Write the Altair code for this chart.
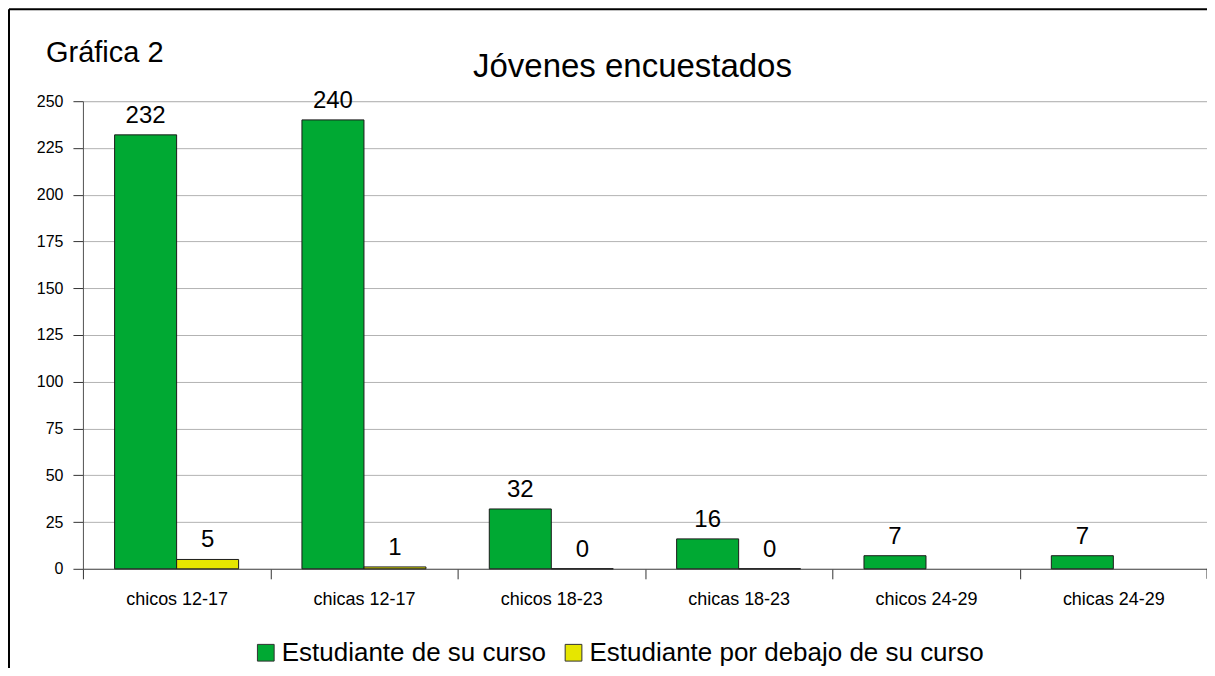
import altair as alt
import pandas as pd

categorias = ["chicos 12-17", "chicas 12-17", "chicos 18-23", "chicas 18-23", "chicos 24-29", "chicas 24-29"]
series = ["Estudiante de su curso", "Estudiante por debajo de su curso"]
en_curso = [232, 240, 32, 16, 7, 7]
por_debajo = [5, 1, 0, 0, None, None]
colores = ["#00a933", "#e6e600"]
y_ticks = [0, 25, 50, 75, 100, 125, 150, 175, 200, 225, 250]

rows = []
for c, a, b in zip(categorias, en_curso, por_debajo):
    rows.append({"cat": c, "serie": series[0], "valor": a})
    if b is not None:
        rows.append({"cat": c, "serie": series[1], "valor": b})
df = pd.DataFrame(rows)

W, H = 1125, 468
FONT = "Liberation Sans"
step = W / len(categorias)
PI = 0.338
half_gap = PI * step / 2

x_enc = alt.X("cat:N", sort=categorias, title=None,
              scale=alt.Scale(paddingInner=PI, paddingOuter=PI / 2),
              axis=alt.Axis(bandPosition=0, tickOffset=-half_gap, labelOffset=half_gap,
                            labelAngle=0, tickSize=10, labelPadding=12, labelFontSize=18,
                            labelFont=FONT, labelColor="#000", domainColor="#555",
                            tickColor="#333", grid=False))
xo_enc = alt.XOffset("serie:N", sort=series)
y_enc = alt.Y("valor:Q", title=None,
              scale=alt.Scale(domain=[0, 250], nice=False),
              axis=alt.Axis(values=y_ticks, tickSize=10, labelPadding=10, labelFontSize=16,
                            labelFont=FONT, labelColor="#000", domainColor="#555",
                            tickColor="#333", gridColor="#b3b3b3"))

bars = alt.Chart(df).mark_bar(stroke="#1a1a1a", strokeWidth=1).encode(
    x=x_enc, xOffset=xo_enc, y=y_enc,
    color=alt.Color("serie:N", sort=series,
                    scale=alt.Scale(domain=series, range=colores),
                    legend=alt.Legend(title=None, orient="none", direction="horizontal",
                                      legendX=170, legendY=539, symbolType="square",
                                      symbolSize=280, symbolStrokeColor="#333",
                                      symbolStrokeWidth=1, labelFontSize=26,
                                      labelFont=FONT, labelColor="#000", labelLimit=1000,
                                      labelOffset=3, columnPadding=14, symbolOffset=0)),
)

labels = alt.Chart(df).mark_text(baseline="alphabetic", dy=-12, fontSize=24, font=FONT,
                                 color="#000").encode(
    x=alt.X("cat:N", sort=categorias), xOffset=xo_enc, y="valor:Q", text="valor:Q"
)

t1 = alt.Chart(pd.DataFrame({"t": ["Gráfica 2"]})).mark_text(
    align="left", baseline="alphabetic", fontSize=29, font=FONT, color="#000"
).encode(x=alt.value(-37), y=alt.value(-39), text="t:N")

t2 = alt.Chart(pd.DataFrame({"t": ["Jóvenes encuestados"]})).mark_text(
    align="center", baseline="alphabetic", fontSize=33, font=FONT, color="#000"
).encode(x=alt.value(550), y=alt.value(-24), text="t:N")

frame_top = alt.Chart(pd.DataFrame({"t": [0]})).mark_rule(color="#000", strokeWidth=2).encode(
    x=alt.value(-74), x2=alt.value(1135), y=alt.value(-92))
frame_left = alt.Chart(pd.DataFrame({"t": [0]})).mark_rule(color="#000", strokeWidth=2).encode(
    x=alt.value(-74), y=alt.value(-92), y2=alt.value(580))
end_tick = alt.Chart(pd.DataFrame({"t": [0]})).mark_rule(color="#333", strokeWidth=1).encode(
    x=alt.value(W), y=alt.value(H), y2=alt.value(H + 10))

chart = alt.layer(frame_top, frame_left, bars, labels, t1, t2, end_tick).properties(
    width=W, height=H,
    autosize=alt.AutoSizeParams(type="none"),
    padding={"left": 75, "top": 93, "right": 0, "bottom": 99},
).configure_view(stroke="#b3b3b3").configure(background="#ffffff")

chart.save("out.html", embed_options={"renderer": "svg", "actions": False})
